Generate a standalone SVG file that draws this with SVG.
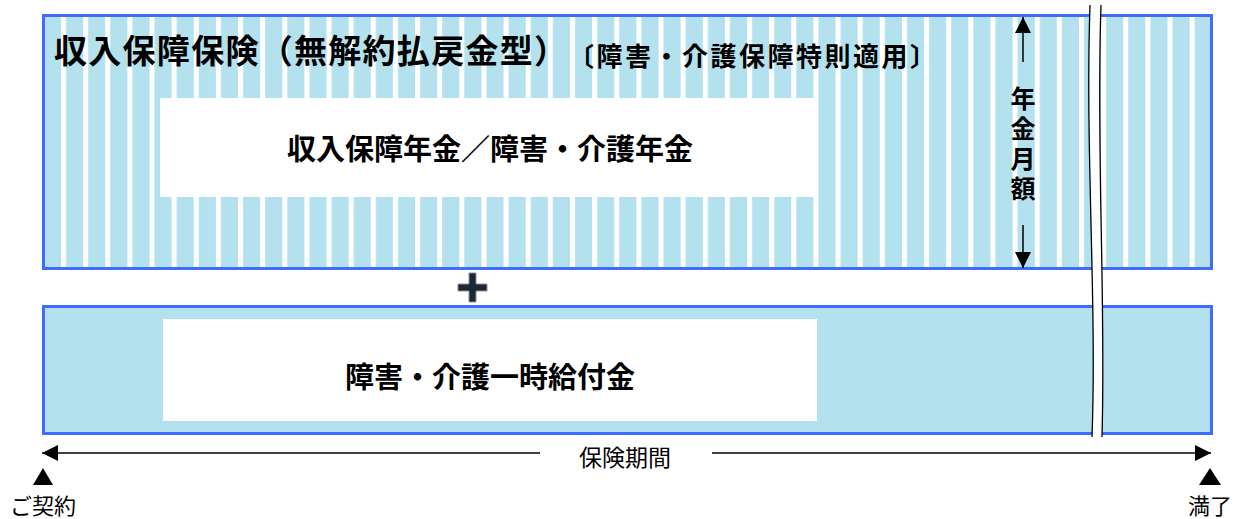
<svg xmlns="http://www.w3.org/2000/svg" width="1240" height="519" viewBox="0 0 1240 519">
  <style>
    .jp { font-family: "Noto Sans CJK JP", "Noto Sans", sans-serif; fill: #000; }
    .b { font-weight: bold; }
    .frame { stroke: #3f6bff; stroke-width: 3; }
    .brk { fill: none; stroke: #000; stroke-width: 1.3; }
  </style>
  <defs>
    <pattern id="stripes" patternUnits="userSpaceOnUse" x="61" y="0" width="22.13" height="10">
      <rect x="0" y="0" width="22.13" height="10" fill="#b3e2ee"/>
      <rect x="0" y="0" width="5" height="10" fill="#ffffff"/>
    </pattern>
    <marker id="ah" viewBox="0 0 16 16" refX="16" refY="8" markerWidth="16" markerHeight="16" markerUnits="userSpaceOnUse" orient="auto">
      <path d="M0,0 L16,8 L0,16 Z" fill="#000"/>
    </marker>
  </defs>

  <g id="annual-box">
    <rect x="43.5" y="15.5" width="1168" height="253" fill="url(#stripes)" class="frame"/>
    <text x="54" y="63" class="jp b" font-size="33" textLength="513" lengthAdjust="spacing">収入保障保険（無解約払戻金型）</text>
    <text x="568" y="66" class="jp b" font-size="26" textLength="368" lengthAdjust="spacing">〔障害・介護保障特則適用〕</text>
  </g>

  <g id="annual-pension">
    <rect x="160" y="98" width="658" height="99" fill="#ffffff"/>
    <text x="490" y="147" class="jp b" font-size="29" text-anchor="middle" dominant-baseline="central">収入保障年金／障害・介護年金</text>
  </g>

  <g id="monthly-label">
    <text x="1023" y="146" class="jp b" font-size="25" writing-mode="vertical-rl" letter-spacing="5" text-anchor="middle">年金月額</text>
  </g>

  <g id="plus">
    <path d="M458,284 H469 V273 H476 V284 H487 V291 H476 V302 H469 V291 H458 Z" fill="#1f2733" stroke="#8a93a0" stroke-width="1"/>
  </g>

  <g id="lump-box">
    <rect x="43.5" y="306.5" width="1168" height="127" fill="#b3e2ee" class="frame"/>
  </g>

  <g id="lump-sum">
    <rect x="163" y="319" width="654" height="102" fill="#ffffff"/>
    <text x="490" y="375" class="jp b" font-size="29" text-anchor="middle" dominant-baseline="central">障害・介護一時給付金</text>
  </g>

  <g id="break">
    <path d="M1090,5 C1085,150 1097,300 1092,437 L1102,437 C1106,300 1096,150 1101,5 Z" fill="#ffffff"/>
    <path d="M1090,5 C1085,150 1097,300 1092,437" class="brk"/>
    <path d="M1101,5 C1096,150 1106,300 1102,437" class="brk"/>
  </g>

  <g id="connectors">
    <line x1="1023" y1="62" x2="1023" y2="17" stroke="#000" stroke-width="1.5" marker-end="url(#ah)"/>
    <line x1="1023" y1="225" x2="1023" y2="268" stroke="#000" stroke-width="1.5" marker-end="url(#ah)"/>
    <line x1="540" y1="453" x2="42" y2="453" stroke="#000" stroke-width="1.5" marker-end="url(#ah)"/>
    <line x1="712" y1="453" x2="1211" y2="453" stroke="#000" stroke-width="1.5" marker-end="url(#ah)"/>
  </g>

  <g id="period-label">
    <text x="625" y="456" class="jp" font-size="23" text-anchor="middle" dominant-baseline="central">保険期間</text>
  </g>

  <g id="start">
    <path d="M33,485 L43,468 L53,485 Z" fill="#000"/>
    <text x="43" y="504" class="jp" font-size="22" text-anchor="middle" dominant-baseline="central">ご契約</text>
  </g>

  <g id="end">
    <path d="M1199,485 L1210,468 L1221,485 Z" fill="#000"/>
    <text x="1210" y="504" class="jp" font-size="22" text-anchor="middle" dominant-baseline="central">満了</text>
  </g>
</svg>
